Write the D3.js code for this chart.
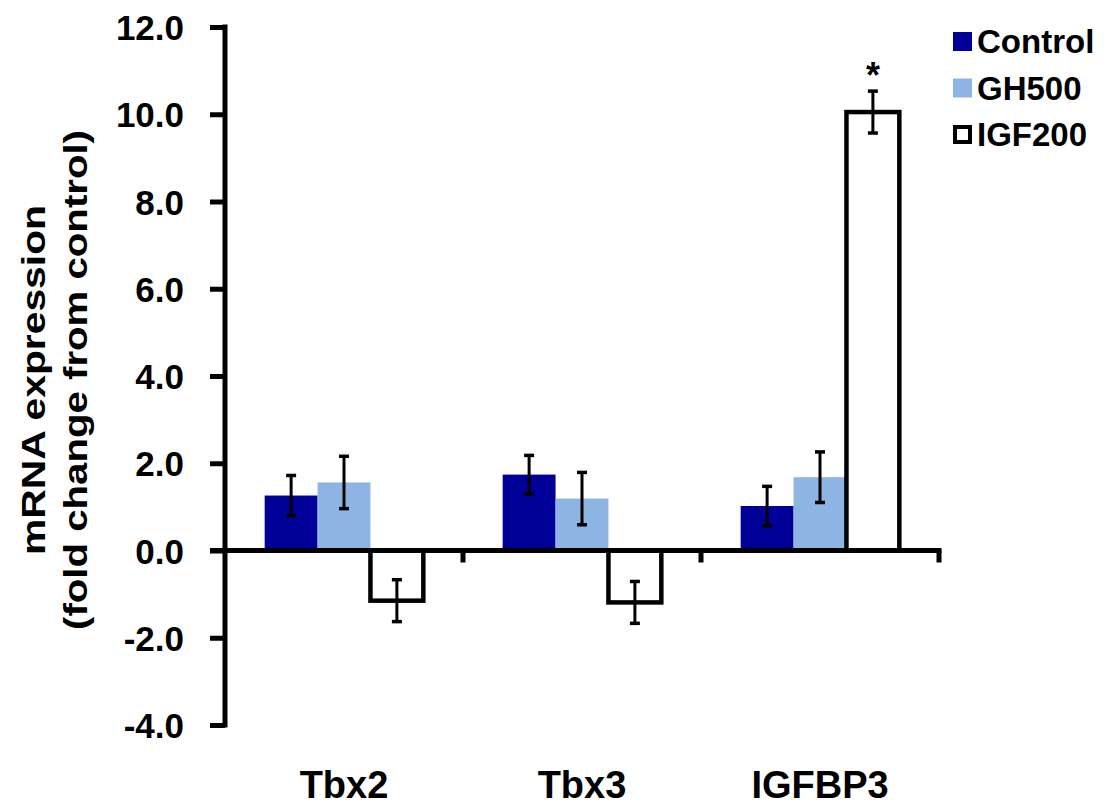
<!DOCTYPE html>
<html>
<head>
<meta charset="utf-8">
<script src="https://cdn.jsdelivr.net/npm/d3@7"></script>
<style>
  body { margin: 0; background: #fff; }
  text { font-family: Arial, "Liberation Sans", sans-serif; font-weight: bold; fill: #000; }
</style>
</head>
<body>
<svg id="chart" width="1107" height="810"></svg>
<script>
// Datos
const genes = ["Tbx2", "Tbx3", "IGFBP3"];
const groups = ["Control", "GH500", "IGF200"];
const control = [1.26, 1.74, 1.02];
const gh500 = [1.56, 1.19, 1.68];
const igf200 = [-1.15, -1.19, 10.05];
const controlErr = [0.46, 0.44, 0.45];
const gh500Err = [0.60, 0.60, 0.58];
const igf200Err = [0.48, 0.48, 0.48];
const yTicks = [-4, -2, 0, 2, 4, 6, 8, 10, 12];
const stars = ["", "", "*"];

const colors = { Control: "#000099", GH500: "#8DB4E2", IGF200: "#ffffff" };

const svg = d3.select("#chart");
const mLeft = 225, mRight = 939, mTop = 27, mBottom = 725;

const y = d3.scaleLinear().domain([-4, 12]).range([mBottom, mTop]);
const x = d3.scaleBand().domain(genes).range([mLeft, mRight]).paddingInner(0).paddingOuter(0);
const xInner = d3.scaleBand().domain(groups).range([0, x.bandwidth()]).paddingOuter(0.75).paddingInner(0);

// Tabla plana de barras
const series = { Control: control, GH500: gh500, IGF200: igf200 };
const errs = { Control: controlErr, GH500: gh500Err, IGF200: igf200Err };
const bars = [];
genes.forEach((g, i) => {
  groups.forEach(s => bars.push({ gene: g, group: s, value: series[s][i], err: errs[s][i], star: s === "IGF200" ? stars[i] : "" }));
});
const cx = d => x(d.gene) + xInner(d.group) + xInner.bandwidth() / 2;

// Barras
svg.selectAll(".bar")
  .data(bars)
  .enter()
  .append("rect")
  .attr("class", "bar")
  .attr("x", d => x(d.gene) + xInner(d.group))
  .attr("width", xInner.bandwidth())
  .attr("y", d => y(Math.max(0, d.value)))
  .attr("height", d => Math.abs(y(d.value) - y(0)))
  .attr("fill", d => colors[d.group])
  .attr("stroke", d => d.group === "IGF200" ? "#000" : "none")
  .attr("stroke-width", 4.5);

// Barras de error
const eb = svg.selectAll(".err").data(bars).enter().append("g").attr("class", "err")
  .attr("transform", d => `translate(${cx(d)},0)`);
eb.append("line")
  .attr("y1", d => y(d.value - d.err)).attr("y2", d => y(d.value + d.err))
  .attr("stroke", "#000").attr("stroke-width", 3);
eb.append("line")
  .attr("x1", -5).attr("x2", 5)
  .attr("y1", d => y(d.value + d.err)).attr("y2", d => y(d.value + d.err))
  .attr("stroke", "#000").attr("stroke-width", 3.5);
eb.append("line")
  .attr("x1", -5).attr("x2", 5)
  .attr("y1", d => y(d.value - d.err)).attr("y2", d => y(d.value - d.err))
  .attr("stroke", "#000").attr("stroke-width", 3.5);

// Asterisco
svg.selectAll(".star")
  .data(bars.filter(d => d.star))
  .enter()
  .append("text")
  .attr("x", cx)
  .attr("y", d => y(d.value + d.err) - 3)
  .attr("text-anchor", "middle")
  .attr("font-size", "36px")
  .text(d => d.star);

// Eje Y
const yAxis = svg.append("g")
  .attr("transform", `translate(${mLeft},0)`)
  .call(d3.axisLeft(y).tickValues(yTicks).tickSize(15).tickPadding(26).tickFormat(d => d.toFixed(1)));
yAxis.select(".domain").remove();
yAxis.append("line").attr("x1", 0).attr("x2", 0).attr("y1", mTop - 2.5).attr("y2", mBottom + 2.5)
  .attr("stroke", "#000").attr("stroke-width", 5);
yAxis.selectAll(".tick line").attr("stroke", "#000").attr("stroke-width", 5);
yAxis.selectAll(".tick text").attr("font-size", "35px").attr("fill", "#000")
  .attr("font-family", "Arial, 'Liberation Sans', sans-serif").attr("font-weight", "bold")
  .attr("dy", "0.36em");

// Eje X en y=0
const xAxis = svg.append("g").attr("transform", `translate(0,${y(0)})`);
xAxis.append("line").attr("x1", mLeft - 15).attr("x2", mRight + 2.5).attr("y1", 0).attr("y2", 0)
  .attr("stroke", "#000").attr("stroke-width", 5);
xAxis.selectAll(".xt")
  .data(genes)
  .enter()
  .append("line")
  .attr("x1", d => x(d) + x.bandwidth()).attr("x2", d => x(d) + x.bandwidth())
  .attr("y1", 0).attr("y2", 12)
  .attr("stroke", "#000").attr("stroke-width", 5);

// Etiquetas de categoría abajo
svg.selectAll(".xlabel")
  .data(genes)
  .enter()
  .append("text")
  .attr("x", d => x(d) + x.bandwidth() / 2)
  .attr("y", 798)
  .attr("text-anchor", "middle")
  .attr("font-size", "38px")
  .text(d => d);

// Título eje Y
const yTitle = svg.append("text")
  .attr("transform", "translate(0,380) rotate(-90)")
  .attr("text-anchor", "middle")
  .attr("font-size", "33px");
yTitle.append("tspan").attr("x", 0).attr("y", 45)
  .attr("textLength", 350).attr("lengthAdjust", "spacingAndGlyphs").text("mRNA expression");
yTitle.append("tspan").attr("x", 0).attr("y", 87)
  .attr("textLength", 500).attr("lengthAdjust", "spacingAndGlyphs").text("(fold change from control)");

// Leyenda
const legend = svg.selectAll(".legend")
  .data(groups)
  .enter()
  .append("g")
  .attr("transform", (d, i) => `translate(953,${32 + i * 46.5})`);
legend.append("rect")
  .attr("x", d => d === "IGF200" ? 2 : 0)
  .attr("y", d => d === "IGF200" ? 2 : 0)
  .attr("width", d => d === "IGF200" ? 15 : 19)
  .attr("height", d => d === "IGF200" ? 15 : 19)
  .attr("fill", d => colors[d])
  .attr("stroke", d => d === "IGF200" ? "#000" : "none")
  .attr("stroke-width", 4);
legend.append("text")
  .attr("x", 24)
  .attr("y", 21)
  .attr("font-size", "33px")
  .text(d => d);
</script>
</body>
</html>
